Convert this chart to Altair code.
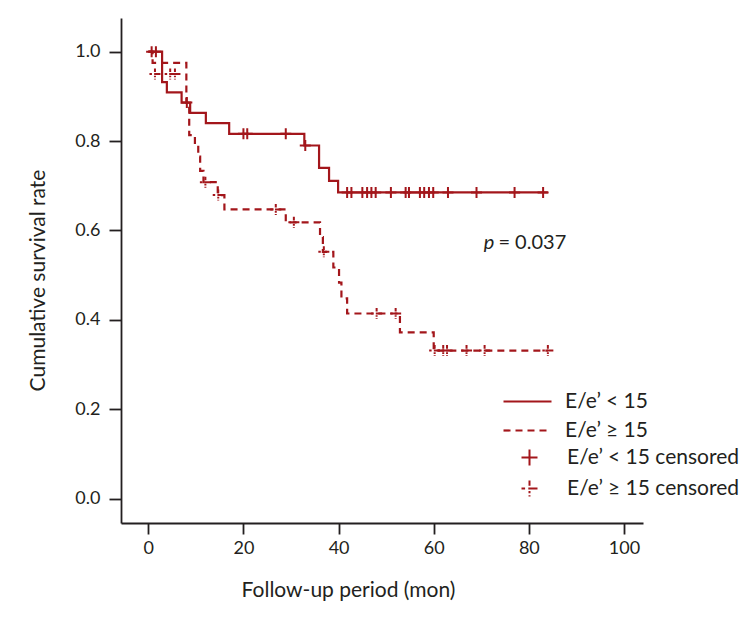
import altair as alt
import pandas as pd

RED = "#A3161B"
INK = "#231F20"
FONT = "Lato"

GROUPS = ["E/e\u2019 < 15", "E/e\u2019 \u2265 15"]
CENS_GROUPS = ["E/e\u2019 < 15 censored", "E/e\u2019 \u2265 15 censored"]

# Kaplan-Meier curve, E/e' < 15 (solid)
low_t = [0, 2.9, 3.9, 7.0, 8.8, 12.1, 17.0, 32.8, 35.9, 38.0, 39.9, 84.0]
low_s = [1.0, 0.932, 0.909, 0.886, 0.863, 0.840, 0.816, 0.790, 0.740, 0.711, 0.685, 0.685]
low_cens_t = [0.7, 1.6, 8.1, 20.0, 20.8, 28.9, 33.0, 41.8, 42.7, 45.0, 46.0, 46.9, 47.8,
              51.0, 54.1, 54.8, 57.1, 58.0, 59.0, 59.9, 63.0, 69.0, 77.0, 83.0]
low_cens_s = [1.0, 1.0, 0.886, 0.816, 0.816, 0.816, 0.790] + [0.685] * 17

# Kaplan-Meier curve, E/e' >= 15 (dashed)
high_t = [0, 0.9, 8.0, 8.6, 9.8, 10.5, 10.9, 11.6, 14.6, 16.0, 28.9, 36.1, 36.7,
          38.9, 40.1, 40.6, 41.8, 52.9, 60.0, 84.0]
high_s = [1.0, 0.975, 0.886, 0.813, 0.790, 0.765, 0.733, 0.708, 0.679, 0.647, 0.618,
          0.585, 0.552, 0.517, 0.483, 0.448, 0.414, 0.372, 0.331, 0.331]
high_cens_t = [1.4, 4.6, 5.6, 12.0, 14.7, 26.8, 30.6, 36.9, 48.0, 52.0,
               60.2, 62.0, 62.8, 66.9, 70.7, 84.0]
high_cens_s = [0.95, 0.95, 0.95, 0.708, 0.679, 0.647, 0.618, 0.552, 0.414, 0.414,
               0.331, 0.331, 0.331, 0.331, 0.331, 0.331]

x_ticks = [0, 20, 40, 60, 80, 100]
y_ticks = [0.0, 0.2, 0.4, 0.6, 0.8, 1.0]

p_prefix = "p"
p_value = "= 0.037"
p_at = (70.5, 0.572)
p_val_t = 73.6

curve_df = pd.DataFrame({
    "t": low_t + high_t,
    "s": low_s + high_s,
    "group": [GROUPS[0]] * len(low_t) + [GROUPS[1]] * len(high_t),
})
cens_df = pd.DataFrame({
    "t": low_cens_t + high_cens_t,
    "s": low_cens_s + high_cens_s,
    "group": [CENS_GROUPS[0]] * len(low_cens_t) + [CENS_GROUPS[1]] * len(high_cens_t),
})

CROSS = "M-1,0L1,0M0,-1L0,1"
DCROSS = "M-1,0L-0.55,0M-0.15,0L1,0M0,-1L0,-0.35M0,0.3L0,0.6M0,0.85L0,1"

xscale = alt.Scale(domain=[-5.74, 104], nice=False, zero=False)
yscale = alt.Scale(domain=[-0.0548, 1.0753], nice=False, zero=False)

xaxis = alt.Axis(values=x_ticks, format="d", title="Follow-up period (mon)",
                 titleX=227, titlePadding=22, labelPadding=5, tickSize=11)
yaxis = alt.Axis(values=y_ticks, format=".1f", title="Cumulative survival rate",
                 titleY=262, titlePadding=26, labelPadding=9, tickSize=12)

LEG_FS = 21

lines = alt.Chart(curve_df).mark_line(
    interpolate="step-after", color=RED, strokeWidth=2.2
).encode(
    x=alt.X("t:Q", scale=xscale, axis=xaxis),
    y=alt.Y("s:Q", scale=yscale, axis=yaxis),
    strokeDash=alt.StrokeDash(
        "group:N",
        scale=alt.Scale(domain=GROUPS, range=[[1, 0], [7, 5]]),
        legend=alt.Legend(
            title=None, orient="none", legendX=393, legendY=370,
            symbolType="M-2,0L2,0", symbolSize=576, symbolStrokeWidth=2.2,
            symbolStrokeColor=RED, labelOffset=24, rowPadding=5, labelLimit=400,
            labelFont=FONT, labelFontSize=LEG_FS, labelColor=INK,
        ),
    ),
)

points = alt.Chart(cens_df).mark_point(
    filled=False, color=RED, strokeWidth=2, size=121, opacity=1
).encode(
    x=alt.X("t:Q", scale=xscale),
    y=alt.Y("s:Q", scale=yscale),
    shape=alt.Shape(
        "group:N",
        scale=alt.Scale(domain=CENS_GROUPS, range=[CROSS, DCROSS]),
        legend=alt.Legend(
            title=None, orient="none", legendX=398, legendY=429,
            symbolSize=256, symbolStrokeWidth=2, symbolStrokeColor=RED,
            symbolFillColor="transparent", labelOffset=27, rowPadding=6, labelLimit=400,
            labelFont=FONT, labelFontSize=LEG_FS, labelColor=INK,
        ),
    ),
)

p_df = pd.DataFrame({"t": [p_at[0]], "s": [p_at[1]], "txt": [p_prefix]})
v_df = pd.DataFrame({"t": [p_val_t], "s": [p_at[1]], "txt": [p_value]})
ptext = alt.Chart(p_df).mark_text(
    align="left", baseline="middle", fontStyle="italic", font=FONT, fontSize=20, color=INK
).encode(x=alt.X("t:Q", scale=xscale), y=alt.Y("s:Q", scale=yscale), text="txt:N")
vtext = alt.Chart(v_df).mark_text(
    align="left", baseline="middle", font=FONT, fontSize=20, color=INK
).encode(x=alt.X("t:Q", scale=xscale), y=alt.Y("s:Q", scale=yscale), text="txt:N")

chart = alt.layer(lines, points, ptext, vtext).properties(
    width=522, height=505,
    autosize=alt.AutoSizeParams(type="none"),
    padding={"left": 113, "top": 10, "right": 100, "bottom": 86},
).configure_view(stroke=None).configure_axis(
    grid=False, domainColor=INK, domainWidth=1.8, tickColor=INK, tickWidth=1.8,
    labelFont=FONT, labelFontSize=18, labelColor=INK,
    titleFont=FONT, titleFontSize=21, titleFontWeight="normal", titleColor=INK,
)

chart.save("out.html", embed_options={"renderer": "svg", "actions": False})
